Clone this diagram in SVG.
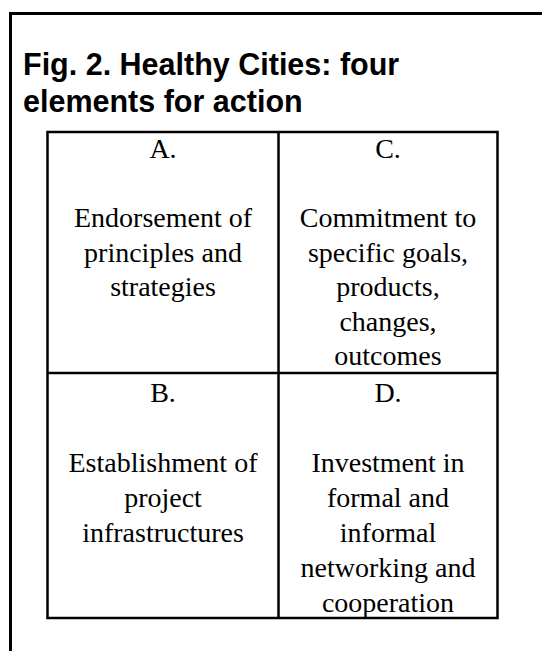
<svg xmlns="http://www.w3.org/2000/svg" width="542" height="651" viewBox="0 0 542 651">
  <style>
    .frame { fill: none; stroke: #000; stroke-width: 3; }
    .grid { fill: none; stroke: #000; stroke-width: 2.5; }
    .title { font-family: "Liberation Sans", Arial, sans-serif; font-weight: bold; font-size: 30.5px; fill: #000; }
    .cell { font-family: "Liberation Serif", "Times New Roman", serif; font-size: 28px; fill: #000; text-anchor: middle; }
  </style>
  <rect width="542" height="651" fill="#fff"/>
  <!-- outer frame: only the top and left edges fall inside the page -->
  <path class="frame" d="M10.5,651 V13.5 H542"/>

  <g id="title">
    <text class="title" x="23" y="75">Fig. 2. Healthy Cities: four</text>
    <text class="title" x="23" y="112">elements for action</text>
  </g>

  <!-- 2x2 table -->
  <g id="table-lines">
    <rect class="grid" x="47.5" y="132" width="450" height="486"/>
    <line class="grid" x1="278.5" y1="132" x2="278.5" y2="618"/>
    <line class="grid" x1="47.5" y1="373" x2="497.5" y2="373"/>
  </g>

  <g id="cell-A">
    <text class="cell" x="163" y="158">A.</text>
    <text class="cell" x="163" y="227">Endorsement of</text>
    <text class="cell" x="163" y="261.5">principles and</text>
    <text class="cell" x="163" y="296">strategies</text>
  </g>

  <g id="cell-C">
    <text class="cell" x="388" y="158">C.</text>
    <text class="cell" x="388" y="227">Commitment to</text>
    <text class="cell" x="388" y="261.5">specific goals,</text>
    <text class="cell" x="388" y="296">products,</text>
    <text class="cell" x="388" y="330.5">changes,</text>
    <text class="cell" x="388" y="365">outcomes</text>
  </g>

  <g id="cell-B">
    <text class="cell" x="163" y="402">B.</text>
    <text class="cell" x="163" y="472">Establishment of</text>
    <text class="cell" x="163" y="507">project</text>
    <text class="cell" x="163" y="542">infrastructures</text>
  </g>

  <g id="cell-D">
    <text class="cell" x="388" y="402">D.</text>
    <text class="cell" x="388" y="472">Investment in</text>
    <text class="cell" x="388" y="507">formal and</text>
    <text class="cell" x="388" y="542">informal</text>
    <text class="cell" x="388" y="577">networking and</text>
    <text class="cell" x="388" y="612">cooperation</text>
  </g>
</svg>
